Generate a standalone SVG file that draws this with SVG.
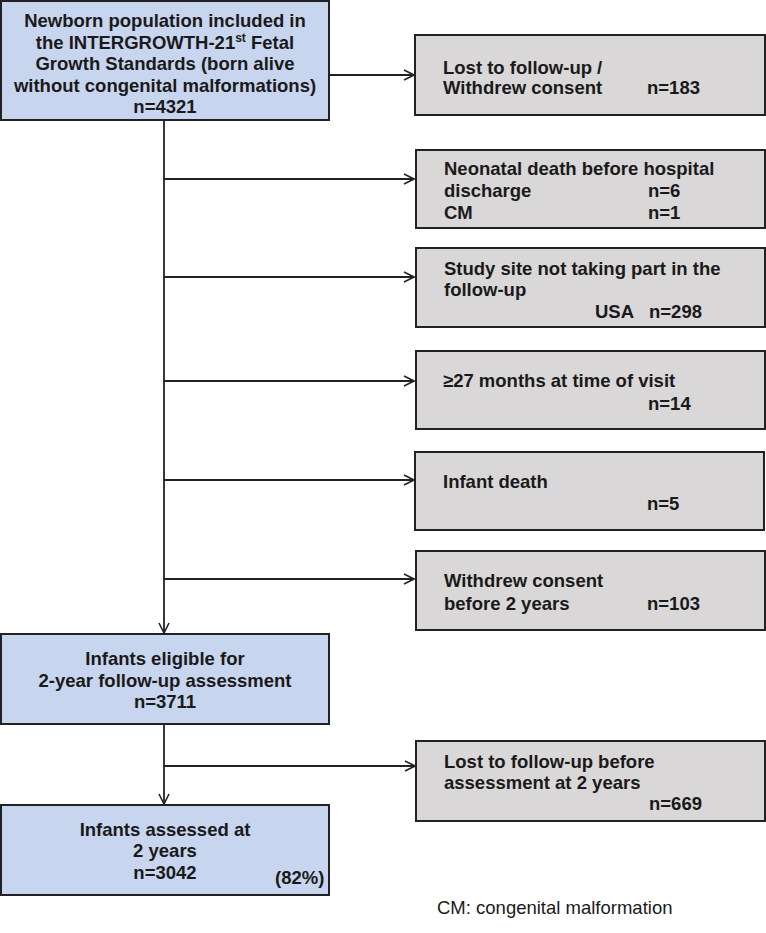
<svg xmlns="http://www.w3.org/2000/svg" width="766" height="933" viewBox="0 0 766 933">
<style>
.blue{fill:#c8d5ee;stroke:#222;stroke-width:2}
.gray{fill:#d9d7d8;stroke:#222;stroke-width:2}
text{font-family:"Liberation Sans",Arial,sans-serif;font-weight:bold;font-size:18.5px;fill:#1a1a1a}
.c{text-anchor:middle}
.ln{fill:none;stroke:#222;stroke-width:1.8}
</style>
<defs>
<marker id="ah" viewBox="0 0 12 12" refX="11" refY="6" markerWidth="12" markerHeight="12" markerUnits="userSpaceOnUse" orient="auto">
<path d="M1,1 L11,6 L1,11" fill="none" stroke="#222" stroke-width="1.6"/>
</marker>
</defs>
<g id="connectors">
<line class="ln" x1="329" y1="75" x2="414" y2="75" marker-end="url(#ah)"/>
<line class="ln" x1="164" y1="120" x2="164" y2="633" marker-end="url(#ah)"/>
<line class="ln" x1="164" y1="179" x2="414" y2="179" marker-end="url(#ah)"/>
<line class="ln" x1="164" y1="277" x2="414" y2="277" marker-end="url(#ah)"/>
<line class="ln" x1="164" y1="381" x2="414" y2="381" marker-end="url(#ah)"/>
<line class="ln" x1="164" y1="480" x2="414" y2="480" marker-end="url(#ah)"/>
<line class="ln" x1="164" y1="579" x2="414" y2="579" marker-end="url(#ah)"/>
<line class="ln" x1="164" y1="724" x2="164" y2="804" marker-end="url(#ah)"/>
<line class="ln" x1="164" y1="766" x2="415" y2="766" marker-end="url(#ah)"/>
</g>
<g id="newborn">
<rect class="blue" x="1" y="1" width="328" height="119"/>
<text class="c" x="165" y="27">Newborn population included in</text>
<text class="c" x="165" y="49">the INTERGROWTH-21<tspan font-size="12" dy="-7">st</tspan><tspan dy="7"> Fetal</tspan></text>
<text class="c" x="165" y="70">Growth Standards (born alive</text>
<text class="c" x="165" y="92">without congenital malformations)</text>
<text class="c" x="165" y="113">n=4321</text>
</g>
<g id="lost1">
<rect class="gray" x="415" y="35" width="350" height="80"/>
<text x="443" y="74">Lost to follow-up /</text>
<text x="443" y="94">Withdrew consent</text>
<text x="647" y="94">n=183</text>
</g>
<g id="neonatal">
<rect class="gray" x="416" y="150" width="349" height="78"/>
<text x="444" y="175">Neonatal death before hospital</text>
<text x="444" y="197">discharge</text>
<text x="648" y="197">n=6</text>
<text x="444" y="219">CM</text>
<text x="648" y="219">n=1</text>
</g>
<g id="site">
<rect class="gray" x="416" y="248" width="349" height="79"/>
<text x="444" y="275">Study site not taking part in the</text>
<text x="444" y="296">follow-up</text>
<text x="595" y="318">USA</text>
<text x="649" y="318">n=298</text>
</g>
<g id="months">
<rect class="gray" x="416" y="351" width="349" height="78"/>
<text x="443" y="387">≥27 months at time of visit</text>
<text x="648" y="410">n=14</text>
</g>
<g id="infantdeath">
<rect class="gray" x="415" y="452" width="349" height="78"/>
<text x="443" y="488">Infant death</text>
<text x="647" y="510">n=5</text>
</g>
<g id="withdrew">
<rect class="gray" x="416" y="551" width="349" height="79"/>
<text x="444" y="587">Withdrew consent</text>
<text x="444" y="610">before 2 years</text>
<text x="647" y="610">n=103</text>
</g>
<g id="eligible">
<rect class="blue" x="1" y="634" width="328" height="90"/>
<text class="c" x="165" y="665">Infants eligible for</text>
<text class="c" x="165" y="687">2-year follow-up assessment</text>
<text class="c" x="165" y="708">n=3711</text>
</g>
<g id="lost2">
<rect class="gray" x="416" y="741" width="349" height="80"/>
<text x="444" y="768">Lost to follow-up before</text>
<text x="444" y="789">assessment at 2 years</text>
<text x="649" y="810">n=669</text>
</g>
<g id="assessed">
<rect class="blue" x="1" y="805" width="328" height="90"/>
<text class="c" x="165" y="836">Infants assessed at</text>
<text class="c" x="165" y="857">2 years</text>
<text class="c" x="165" y="879">n=3042</text>
<text x="275" y="884" font-size="15.5">(82%)</text>
</g>
<text x="437" y="914" style="font-weight:normal;font-size:18.5px">CM: congenital malformation</text>
</svg>
